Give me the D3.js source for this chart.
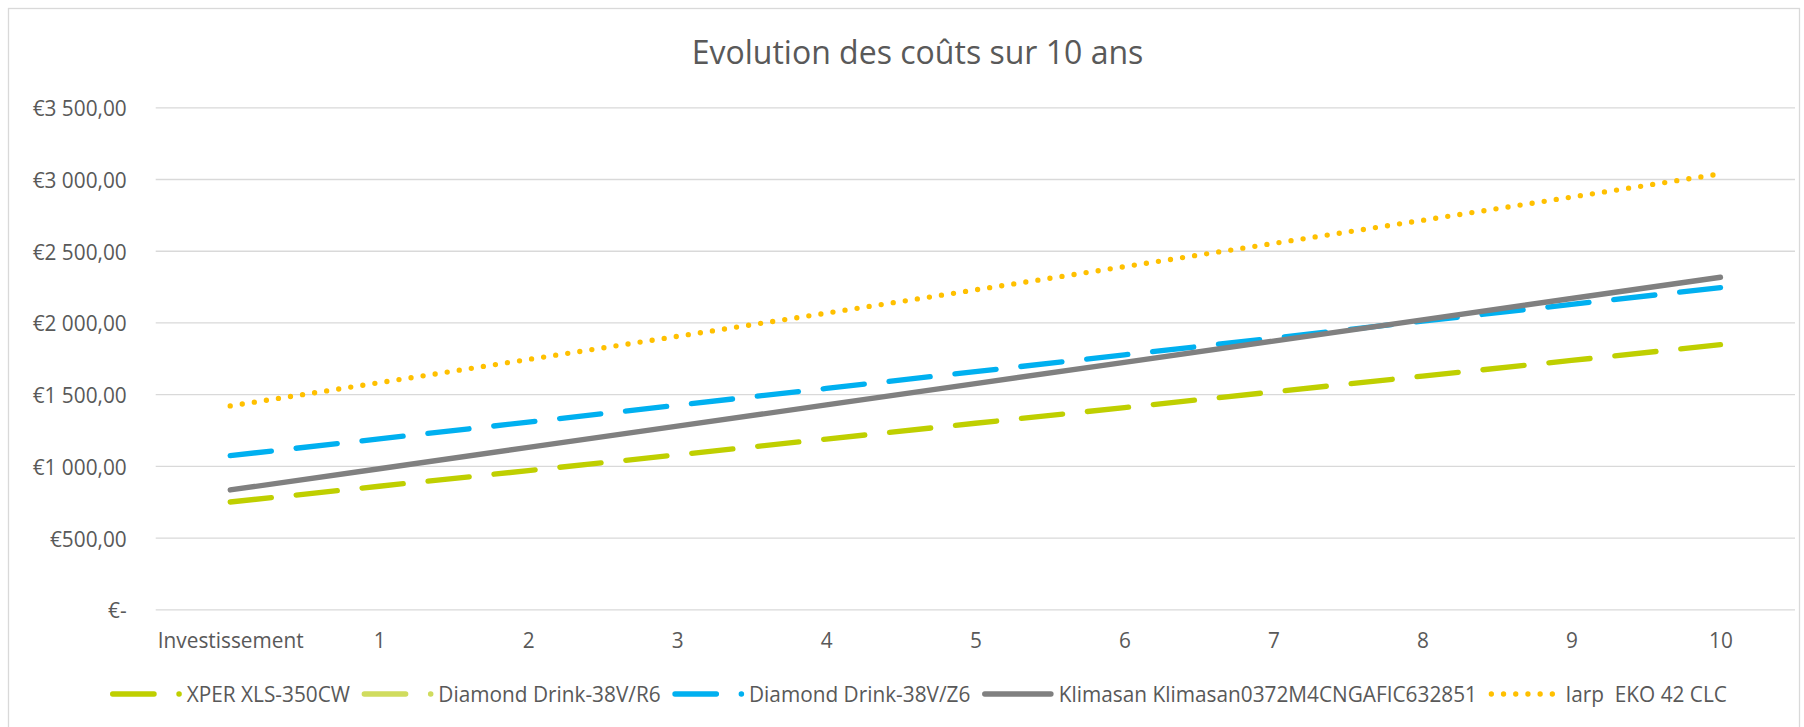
<!DOCTYPE html>
<html>
<head>
<meta charset="utf-8">
<script src="https://cdn.jsdelivr.net/npm/d3@7"></script>
<style>
  body { margin: 0; background: #fff; }
  svg text { font-family: "Open Sans", sans-serif; fill: #595959; white-space: pre; }
</style>
</head>
<body>
<script>
const categories = ["Investissement", "1", "2", "3", "4", "5", "6", "7", "8", "9", "10"];
const seriesNames = [
  "XPER XLS-350CW",
  "Diamond Drink-38V/R6",
  "Diamond Drink-38V/Z6",
  "Klimasan Klimasan0372M4CNGAFIC632851",
  "Iarp  EKO 42 CLC"
];
const xperValues = [748, 858, 967, 1077, 1187, 1297, 1406, 1516, 1626, 1735, 1845];
const r6Values = [];
const z6Values = [1071, 1188, 1305, 1423, 1540, 1657, 1774, 1891, 2009, 2126, 2243];
const klimasanValues = [832, 980, 1129, 1277, 1425, 1574, 1722, 1870, 2018, 2167, 2315];
const iarpValues = [1418, 1580, 1742, 1903, 2065, 2227, 2389, 2551, 2712, 2874, 3036];
const yTicks = [0, 500, 1000, 1500, 2000, 2500, 3000, 3500];
const chartTitle = "Evolution des coûts sur 10 ans";

const series = [
  { name: seriesNames[0], values: xperValues, color: "#BFCF00", dash: "41.4 24.9" },
  { name: seriesNames[1], values: r6Values, color: "#D0DC5E", dash: "41.4 24.9" },
  { name: seriesNames[2], values: z6Values, color: "#00B0F0", dash: "41.4 24.9" },
  { name: seriesNames[3], values: klimasanValues, color: "#808080", dash: null },
  { name: seriesNames[4], values: iarpValues, color: "#FFC000", dash: "0 12.2" }
];

const svgWidth = 1804;
const svgHeight = 727;
const plot = { left: 155.7, right: 1795, top: 107.3, bottom: 609.3 };
const lineW = 5.33;

const svg = d3.select('body').append('svg')
  .attr('width', svgWidth)
  .attr('height', svgHeight);

// chart frame
svg.append('rect')
  .attr('x', 8.5).attr('y', 8.5)
  .attr('width', 1791).attr('height', 740)
  .attr('fill', 'none')
  .attr('stroke', '#d9d9d9')
  .attr('stroke-width', 1.3);

// measure text to get the horizontal squeeze of the reference font
function textWidth(str, size) {
  const t = svg.append('text').attr('font-size', size).text(str);
  const w = t.node().getComputedTextLength();
  t.remove();
  return w;
}
const fs = 22;
const sx = 418.3 / textWidth(seriesNames[3], fs);
const titleSize = 33.6;
const sxTitle = 451.6 / textWidth(chartTitle, titleSize);

const xScale = d3.scalePoint()
  .domain(categories)
  .range([plot.left, plot.right])
  .padding(0.5);

const yScale = d3.scaleLinear()
  .domain([0, 3500])
  .range([plot.bottom, plot.top]);

const locale = d3.formatLocale({ decimal: ",", thousands: " ", grouping: [3], currency: ["€", ""] });
const money = locale.format("$,.2f");
const euro = v => v === 0 ? "€-" : money(v);

// title
svg.append('text')
  .attr('text-anchor', 'middle')
  .attr('font-size', titleSize)
  .attr('transform', `translate(917.5, 64) scale(${sxTitle}, 1)`)
  .text(chartTitle);

// y axis + gridlines
const yAxis = svg.append('g')
  .attr('transform', `translate(${plot.left}, 0)`)
  .call(d3.axisLeft(yScale)
    .tickValues(yTicks)
    .tickSize(-(plot.right - plot.left))
    .tickFormat(euro));
yAxis.select('.domain').remove();
yAxis.selectAll('.tick line')
  .attr('stroke', '#d9d9d9')
  .attr('stroke-width', 1.33);
yAxis.selectAll('.tick text')
  .attr('x', 0).attr('dy', null)
  .attr('font-size', fs)
  .attr('font-family', '"Open Sans", sans-serif')
  .attr('fill', '#595959')
  .attr('transform', `translate(-29, 8.5) scale(${sx}, 1)`);

// x axis
const xAxis = svg.append('g')
  .attr('transform', `translate(0, ${plot.bottom})`)
  .call(d3.axisBottom(xScale).tickSize(0));
xAxis.select('.domain').remove();
xAxis.selectAll('.tick text')
  .attr('y', 0).attr('dy', null)
  .attr('font-size', fs)
  .attr('font-family', '"Open Sans", sans-serif')
  .attr('fill', '#595959')
  .attr('transform', `translate(0, 38.7) scale(${sx}, 1)`);

// lines
const line = d3.line()
  .defined(d => d != null)
  .x((d, i) => xScale(categories[i]))
  .y(d => yScale(d));

series.forEach(s => {
  if (!s.values.length) return;
  svg.append('path')
    .datum(s.values)
    .attr('fill', 'none')
    .attr('stroke', s.color)
    .attr('stroke-width', lineW)
    .attr('stroke-linecap', 'round')
    .attr('stroke-linejoin', 'round')
    .attr('stroke-dasharray', s.dash)
    .attr('d', line);
});

// legend
const legendY = 694;
let lx = 110;
series.forEach(s => {
  const g = svg.append('g');
  const len = s.dash === "0 12.2" ? 61 : (s.dash ? 66.5 : 66.2);
  g.append('line')
    .attr('x1', lx + lineW / 2).attr('x2', lx + lineW / 2 + len)
    .attr('y1', legendY).attr('y2', legendY)
    .attr('stroke', s.color)
    .attr('stroke-width', lineW)
    .attr('stroke-linecap', 'round')
    .attr('stroke-dasharray', s.dash);
  const tx = lx + 76.7;
  g.append('text')
    .attr('font-size', fs)
    .attr('transform', `translate(${tx}, 701.7) scale(${sx}, 1)`)
    .text(s.name);
  lx = tx + textWidth(s.name, fs) * sx + 11.6;
});
</script>
</body>
</html>
